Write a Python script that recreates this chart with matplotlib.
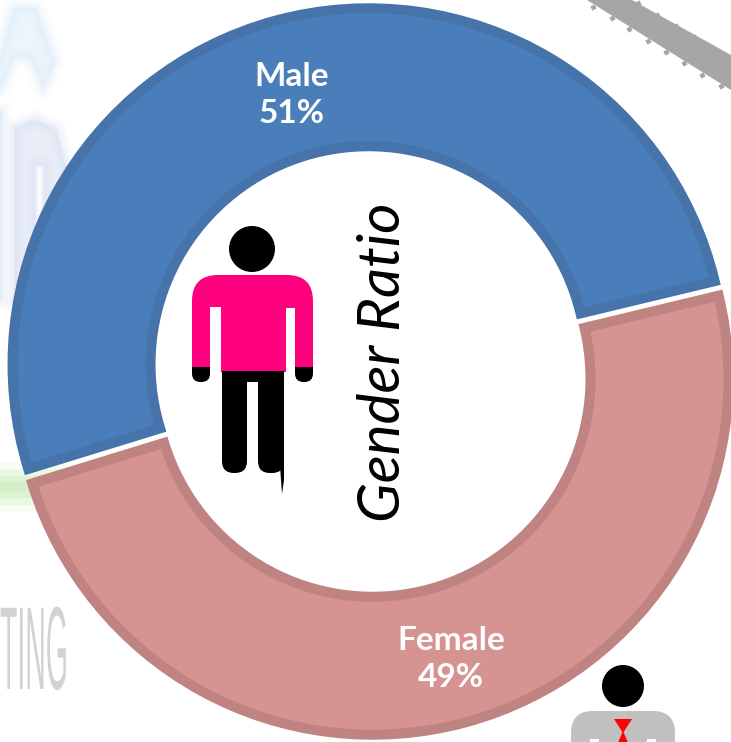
import matplotlib
matplotlib.use("Agg")
import numpy as np
import matplotlib.pyplot as plt
from matplotlib.patches import Circle, Polygon, FancyBboxPatch, Rectangle
from matplotlib.patheffects import AbstractPathEffect
from matplotlib.transforms import Affine2D

W, H = 731, 742

categories = ["Male", "Female"]
shares = [51, 49]
fills = ["#4A7EBB", "#D59391"]
edges = ["#4673A9", "#BF8381"]
title = "Gender Ratio"
watermark = "TING"


# squeezes text sideways, the watermark in the background is very narrow
class Squeeze(AbstractPathEffect):
    def __init__(self, sx, x0):
        super().__init__()
        self.sx = sx
        self.x0 = x0

    def draw_path(self, renderer, gc, tpath, affine, rgbFace=None):
        t = affine + Affine2D().translate(-self.x0, 0).scale(self.sx, 1).translate(self.x0, 0)
        renderer.draw_path(gc, tpath, t, rgbFace)


def fy(y):
    # picture rows to axes y
    return H - y


def pts(xs, ys):
    return list(zip(xs, [fy(v) for v in ys]))


fig = plt.figure(figsize=(W / 100, H / 100), dpi=100)
ax = fig.add_axes([0, 0, 1, 1])

# faded logo behind the ring, soft edge from stacked strokes
arch_top = pts([-10, 14, 36, 55, 43, 31, 14, 0], [92, 8, 8, 62, 90, 58, 58, 90])
arch_low = pts([15, 15, 35, 56, 68, 68, 44, 44, 35, 35], [300, 128, 120, 130, 175, 300, 300, 165, 165, 300])
for a, lw in [(0.12, 14), (0.18, 8), (0.3, 3)]:
    ax.add_patch(Polygon(arch_top, fc="#DCEBFA", ec="#DCEBFA", lw=lw, alpha=a, joinstyle="round", zorder=1))
    ax.add_patch(Polygon(arch_low, fc="#D6DEF2", ec="#D6DEF2", lw=lw, alpha=a, joinstyle="round", zorder=1))
    ax.add_patch(Rectangle((-10, fy(300)), 12, 190, fc="#DCE8F8", ec="#DCE8F8", lw=lw, alpha=a, zorder=1))
ax.add_patch(Rectangle((38, fy(300)), 3, 132, color="white", alpha=0.7, lw=0, zorder=1.1))
for a, h in [(0.12, 50), (0.2, 36), (0.25, 22), (0.3, 10)]:
    ax.add_patch(Rectangle((-5, fy(487) - h / 2), 73, h, color="#BFE8A8", alpha=a, lw=0, zorder=1))
ax.text(0, fy(689), watermark, family="Liberation Sans", fontsize=85, color="#D2D2D2",
        ha="left", va="baseline", zorder=1, path_effects=[Squeeze(0.241, 0)])

# dashed grey band top right
band_x = [587, 632, 731, 731]
band_y = [0, 0, 55, 90]
ax.add_patch(Polygon(pts(band_x, band_y), color="#A6A6A6", lw=0, zorder=1))
low_x = [593, 612, 629, 648, 666, 684, 702, 721]
low_y = [7, 18, 29, 41, 52, 63, 75, 86]
up_x = [638, 657, 676, 694, 713]
up_y = [3, 15, 26, 37, 48]
ax.scatter(low_x + up_x, [fy(v) for v in low_y + up_y], marker=(4, 0, 75), s=22, color="#A6A6A6", lw=0, zorder=1)

# ring, both slices pulled apart so a white gap shows
wedges, _ = ax.pie(shares, colors=fills, startangle=13.5, counterclock=True, radius=356,
                   center=(370.5, fy(371.5)), explode=[7.5, 7.5],
                   wedgeprops=dict(width=138, linewidth=7.2, joinstyle="miter"), frame=True)
for w, c in zip(wedges, edges):
    w.set_edgecolor(c)
    w.set_zorder(2)

ax.text(292, fy(95), "Male\n51%", color="white", family="Lato", weight="bold", fontsize=24,
        ha="center", va="center", linespacing=1.3, zorder=5)
ax.text(451, fy(659), "Female\n49%", color="white", family="Lato", weight="bold", fontsize=24,
        ha="center", va="center", linespacing=1.3, zorder=5)
ax.text(383, fy(362), title, color="black", family="Lato", style="italic", fontsize=42,
        rotation=90, ha="center", va="center", zorder=5)

# person in the middle
ax.add_patch(Circle((252, fy(249)), 23, color="black", lw=0, zorder=4))
ax.add_patch(FancyBboxPatch((192, fy(400)), 121, 125, boxstyle="round,pad=0,rounding_size=26",
                            color="#FF007F", lw=0, zorder=4))
ax.add_patch(Rectangle((180, fy(420)), 160, 49, color="white", lw=0, zorder=4.1))
ax.add_patch(Rectangle((210, fy(372)), 11, 65, color="white", lw=0, zorder=4.2))
ax.add_patch(Rectangle((286, fy(372)), 9, 64, color="white", lw=0, zorder=4.2))
ax.add_patch(Rectangle((221, fy(372)), 65, 20, color="#FF007F", lw=0, zorder=4.3))
for x0, x1 in [(192, 210), (295, 313)]:
    ax.add_patch(FancyBboxPatch((x0, fy(382)), x1 - x0, 24, boxstyle="round,pad=0,rounding_size=8.5",
                                color="black", lw=0, zorder=4.5))
    ax.add_patch(Rectangle((x0, fy(367)), x1 - x0, 14, color="#FF007F", lw=0, zorder=4.6))
for x0, x1 in [(222, 247), (258, 284)]:
    ax.add_patch(FancyBboxPatch((x0, fy(473)), x1 - x0, 102, boxstyle="round,pad=0,rounding_size=12",
                                color="black", lw=0, zorder=4.5))
ax.add_patch(Rectangle((222, fy(382)), 62, 11, color="black", lw=0, zorder=4.5))
ax.add_patch(Polygon(pts([280, 284, 284, 282, 281], [466, 460, 480, 494, 480]), color="black", lw=0, zorder=4.5))

# second person cut off at the bottom
ax.add_patch(Circle((623, fy(686)), 21, color="black", lw=0, zorder=4))
ax.add_patch(FancyBboxPatch((571, fy(780)), 104, 69, boxstyle="round,pad=0,rounding_size=22",
                            color="#C0C0C0", lw=0, zorder=4))
ax.add_patch(Rectangle((590, 0), 9, fy(739), color="white", lw=0, zorder=4.1))
ax.add_patch(Rectangle((647, 0), 9, fy(739), color="white", lw=0, zorder=4.1))
ax.add_patch(Polygon(pts([614, 632, 623], [719, 719, 733]), color="#FF0000", lw=0, zorder=4.2))
ax.add_patch(Polygon(pts([623, 629, 617], [731, 745, 745]), color="#FF0000", lw=0, zorder=4.2))

ax.set_xlim(0, W)
ax.set_ylim(0, H)
ax.set_aspect("equal")
ax.axis("off")

fig.savefig("out.png", dpi=100)
